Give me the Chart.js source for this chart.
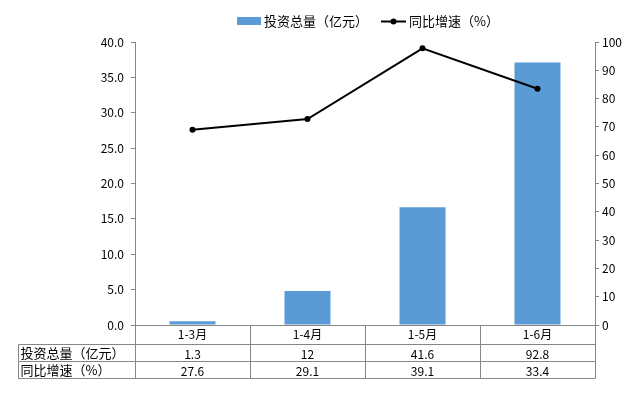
<!DOCTYPE html>
<html>
<head>
<meta charset="utf-8">
<script src="https://cdn.jsdelivr.net/npm/chart.js@4"></script>
<style>
  html, body { margin: 0; padding: 0; background: #fff; }
  #wrap { width: 640px; height: 396px; position: relative; }
</style>
</head>
<body>
<div id="wrap"><canvas id="c"></canvas></div>
<script>
const categories = ['1-3月', '1-4月', '1-5月', '1-6月'];
const investTotal = [1.3, 12, 41.6, 92.8];
const yoyGrowth = [27.6, 29.1, 39.1, 33.4];
const investLabel = '投资总量（亿元）';
const growthLabel = '同比增速（%）';

const BAR_COLOR = '#5b9bd5';
const AXIS_COLOR = '#868686';
const FONT = "'Noto Sans CJK SC', sans-serif";

// 图例 + 数据表
const tablePlugin = {
    id: 'dataTable',
    afterDraw(chart) {
        const ctx = chart.ctx;
        const x = chart.scales.x;
        const area = chart.chartArea;
        const n = categories.length;
        const colW = (area.right - area.left) / n;
        const rows = [area.bottom, 344.5, 361.5, 378.5];
        const tableLeft = 18.5;

        ctx.save();
        ctx.strokeStyle = AXIS_COLOR;
        ctx.lineWidth = 1;
        ctx.beginPath();
        // 横线
        for (let r = 1; r < rows.length; r++) {
            ctx.moveTo(tableLeft, rows[r]);
            ctx.lineTo(area.right + 0.5, rows[r]);
        }
        // 竖线
        for (let i = 0; i <= n; i++) {
            const px = Math.round(area.left + i * colW) + 0.5;
            ctx.moveTo(px, rows[0]);
            ctx.lineTo(px, rows[3]);
        }
        ctx.moveTo(tableLeft, rows[1]);
        ctx.lineTo(tableLeft, rows[3]);
        ctx.stroke();

        ctx.fillStyle = '#000';
        ctx.font = '12px ' + FONT;
        ctx.textBaseline = 'middle';
        ctx.textAlign = 'center';
        categories.forEach((c, i) => {
            const cx = x.getPixelForValue(i);
            ctx.fillText(c, cx, (rows[0] + rows[1]) / 2);
            ctx.fillText(String(investTotal[i]), cx, (rows[1] + rows[2]) / 2 + 1);
            ctx.fillText(String(yoyGrowth[i]), cx, (rows[2] + rows[3]) / 2 + 1);
        });
        ctx.font = '13px ' + FONT;
        ctx.textAlign = 'left';
        ctx.fillText(investLabel, tableLeft + 2, (rows[1] + rows[2]) / 2);
        ctx.fillText(growthLabel, tableLeft + 2, (rows[2] + rows[3]) / 2);

        // 图例
        const ly = 21.5;
        let lx = 237;
        ctx.fillStyle = BAR_COLOR;
        ctx.fillRect(lx, 17, 24, 8);
        lx += 27;
        ctx.fillStyle = '#000';
        ctx.fillText(investLabel, lx, ly);
        lx += ctx.measureText(investLabel).width + 13;
        ctx.strokeStyle = '#000';
        ctx.lineWidth = 2;
        ctx.beginPath();
        ctx.moveTo(lx, ly);
        ctx.lineTo(lx + 25, ly);
        ctx.stroke();
        ctx.beginPath();
        ctx.arc(lx + 12.5, ly, 3, 0, Math.PI * 2);
        ctx.fill();
        lx += 28;
        ctx.fillText(growthLabel, lx, ly);
        ctx.restore();
    }
};

const ctx = document.getElementById('c').getContext('2d');
new Chart(ctx, {
    data: {
        labels: categories,
        datasets: [{
            type: 'line',
            label: growthLabel,
            data: yoyGrowth,
            yAxisID: 'y',
            borderColor: '#000',
            backgroundColor: '#000',
            borderWidth: 2,
            pointRadius: 3,
            pointBackgroundColor: '#000',
            pointBorderWidth: 0,
            tension: 0,
            order: 0
        }, {
            type: 'bar',
            label: investLabel,
            data: investTotal,
            yAxisID: 'y1',
            backgroundColor: BAR_COLOR,
            categoryPercentage: 1,
            barPercentage: 0.4,
            order: 1
        }]
    },
    options: {
        responsive: true,
        maintainAspectRatio: false,
        animation: false,
        layout: { padding: { top: 42, left: 0, right: 0, bottom: 0 } },
        plugins: { legend: { display: false }, tooltip: { enabled: false } },
        scales: {
            x: {
                grid: { display: false },
                border: { display: true, color: AXIS_COLOR },
                ticks: { display: false },
                afterFit(s) { s.height = 71; }
            },
            y: {
                position: 'left',
                min: 0, max: 40,
                grid: { drawOnChartArea: false, tickLength: 4, color: AXIS_COLOR },
                border: { color: AXIS_COLOR },
                ticks: {
                    stepSize: 5, padding: 7, color: '#000',
                    font: { size: 12, family: FONT },
                    callback: v => v.toFixed(1)
                },
                afterFit(s) { s.width = 135; }
            },
            y1: {
                position: 'right',
                min: 0, max: 100,
                grid: { drawOnChartArea: false, tickLength: 4, color: AXIS_COLOR },
                border: { color: AXIS_COLOR },
                ticks: {
                    stepSize: 10, padding: 3, color: '#000',
                    font: { size: 12, family: FONT }
                },
                afterFit(s) { s.width = 45; }
            }
        }
    },
    plugins: [tablePlugin]
});
</script>
</body>
</html>
